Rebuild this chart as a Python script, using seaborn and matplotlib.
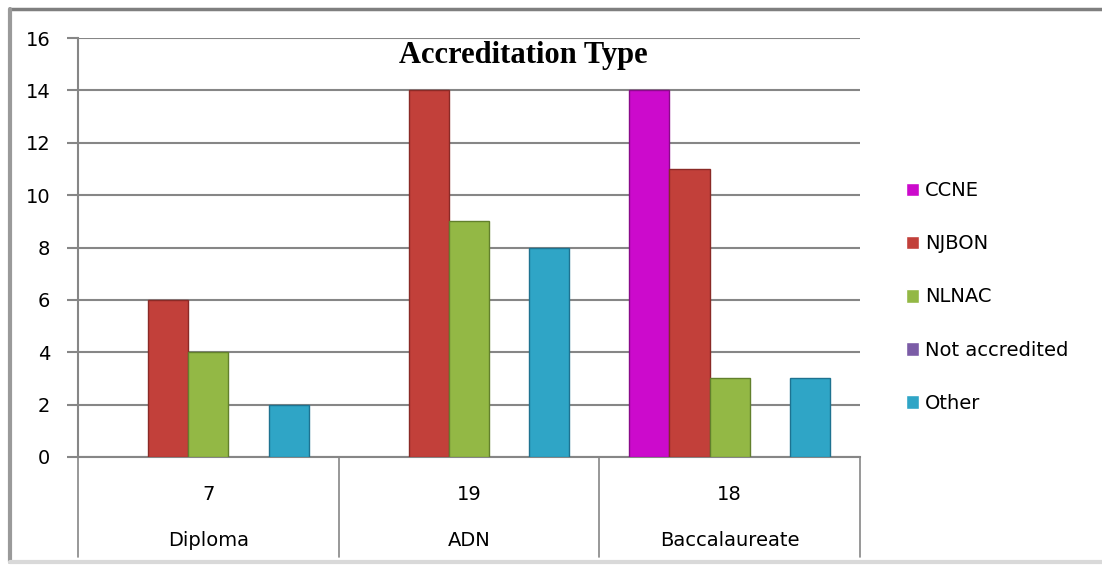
import pandas as pd
import seaborn as sns
import matplotlib.pyplot as plt
from matplotlib.lines import Line2D
from matplotlib.transforms import blended_transform_factory

# Data
programs = ['Diploma', 'ADN', 'Baccalaureate']
program_counts = ['7', '19', '18']
accreditors = ['CCNE', 'NJBON', 'NLNAC', 'Not accredited', 'Other']
ccne = [0, 0, 14]
njbon = [6, 14, 11]
nlnac = [4, 9, 3]
not_accredited = [0, 0, 0]
other = [2, 8, 3]
colors = ['#CC0ACC', '#C2403A', '#93B845', '#7B5CA6', '#2FA5C6']
edge_colors = ['#8A0A8A', '#8A2A26', '#62802C', '#523C72', '#1E7290']

df = pd.DataFrame({
    'Program': programs * 5,
    'Accreditor': [a for a in accreditors for _ in programs],
    'Count': ccne + njbon + nlnac + not_accredited + other,
})

sns.set_theme(style="white")
plt.rcParams['font.family'] = ['DejaVu Sans']
plt.rcParams['text.color'] = 'black'
plt.rcParams['ytick.labelcolor'] = 'black'

fig = plt.figure(figsize=(11.02, 5.67), dpi=100)
ax = fig.add_axes([78 / 1102, 1 - 457 / 567, (860 - 78) / 1102, (457 - 38) / 567])

sns.barplot(data=df, x='Program', y='Count', hue='Accreditor', order=programs,
            hue_order=accreditors, palette=colors, width=0.77, gap=0,
            saturation=1, ax=ax, zorder=3)

# darker edges for a bevel-ish look, hide empty bars
for container, ec in zip(ax.containers, edge_colors):
    for bar in container:
        bar.set_edgecolor(ec)
        bar.set_linewidth(1.0 if bar.get_height() > 0 else 0)

ax.set_ylim(0, 16)
ax.set_xlim(-0.5, 2.5)
ax.set_yticks(range(0, 17, 2))
ax.yaxis.grid(True, color='#868686', linewidth=1.5, zorder=0)
ax.tick_params(axis='y', labelsize=14, length=8, width=1.5, color='#868686',
               labelcolor='black', direction='out', left=True, pad=12)
ax.set_xticks([])
ax.set_xlabel('')
ax.set_ylabel('')
for s in ['top', 'right']:
    ax.spines[s].set_visible(False)
for s in ['left', 'bottom']:
    ax.spines[s].set_color('#868686')
    ax.spines[s].set_linewidth(1.5)

# category table below the axis
low = -100 / 419
trans = blended_transform_factory(ax.transData, ax.transAxes)
for xb in [-0.5, 0.5, 1.5, 2.5]:
    ax.plot([xb, xb], [low, 0], transform=trans, color='#868686', lw=1.2, clip_on=False)
for i, (p, c) in enumerate(zip(programs, program_counts)):
    ax.text(i, -38 / 419, c, transform=trans, ha='center', va='center', fontsize=14, color='black')
    ax.text(i, -83 / 419, p, transform=trans, ha='center', va='center', fontsize=14, color='black')

fig.text(523 / 1102, 1 - 55 / 567, 'Accreditation Type', ha='center', va='center',
         fontsize=22, fontweight='bold', color='black',
         family=['Liberation Serif', 'DejaVu Serif'])

handles, labels = ax.get_legend_handles_labels()
leg = ax.legend(handles, labels, loc='center left', bbox_to_anchor=(888 / 1102, 1 - 297 / 567),
                bbox_transform=fig.transFigure, frameon=False, fontsize=14,
                labelspacing=1.75, handlelength=0.7, handleheight=0.7, handletextpad=0.3)
for t in leg.get_texts():
    t.set_color('black')

# outer chart frame
fig.add_artist(Line2D([10 / 1102, 1], [1 - 9 / 567] * 2, transform=fig.transFigure,
                      color='#7F7F7F', lw=2.5))
fig.add_artist(Line2D([10 / 1102] * 2, [1 - 9 / 567, 1 - 562 / 567], transform=fig.transFigure,
                      color='#9A9A9A', lw=3))
fig.add_artist(Line2D([10 / 1102, 1], [1 - 562 / 567] * 2, transform=fig.transFigure,
                      color='#D9D9D9', lw=3))

fig.savefig('out.png', dpi=100)
